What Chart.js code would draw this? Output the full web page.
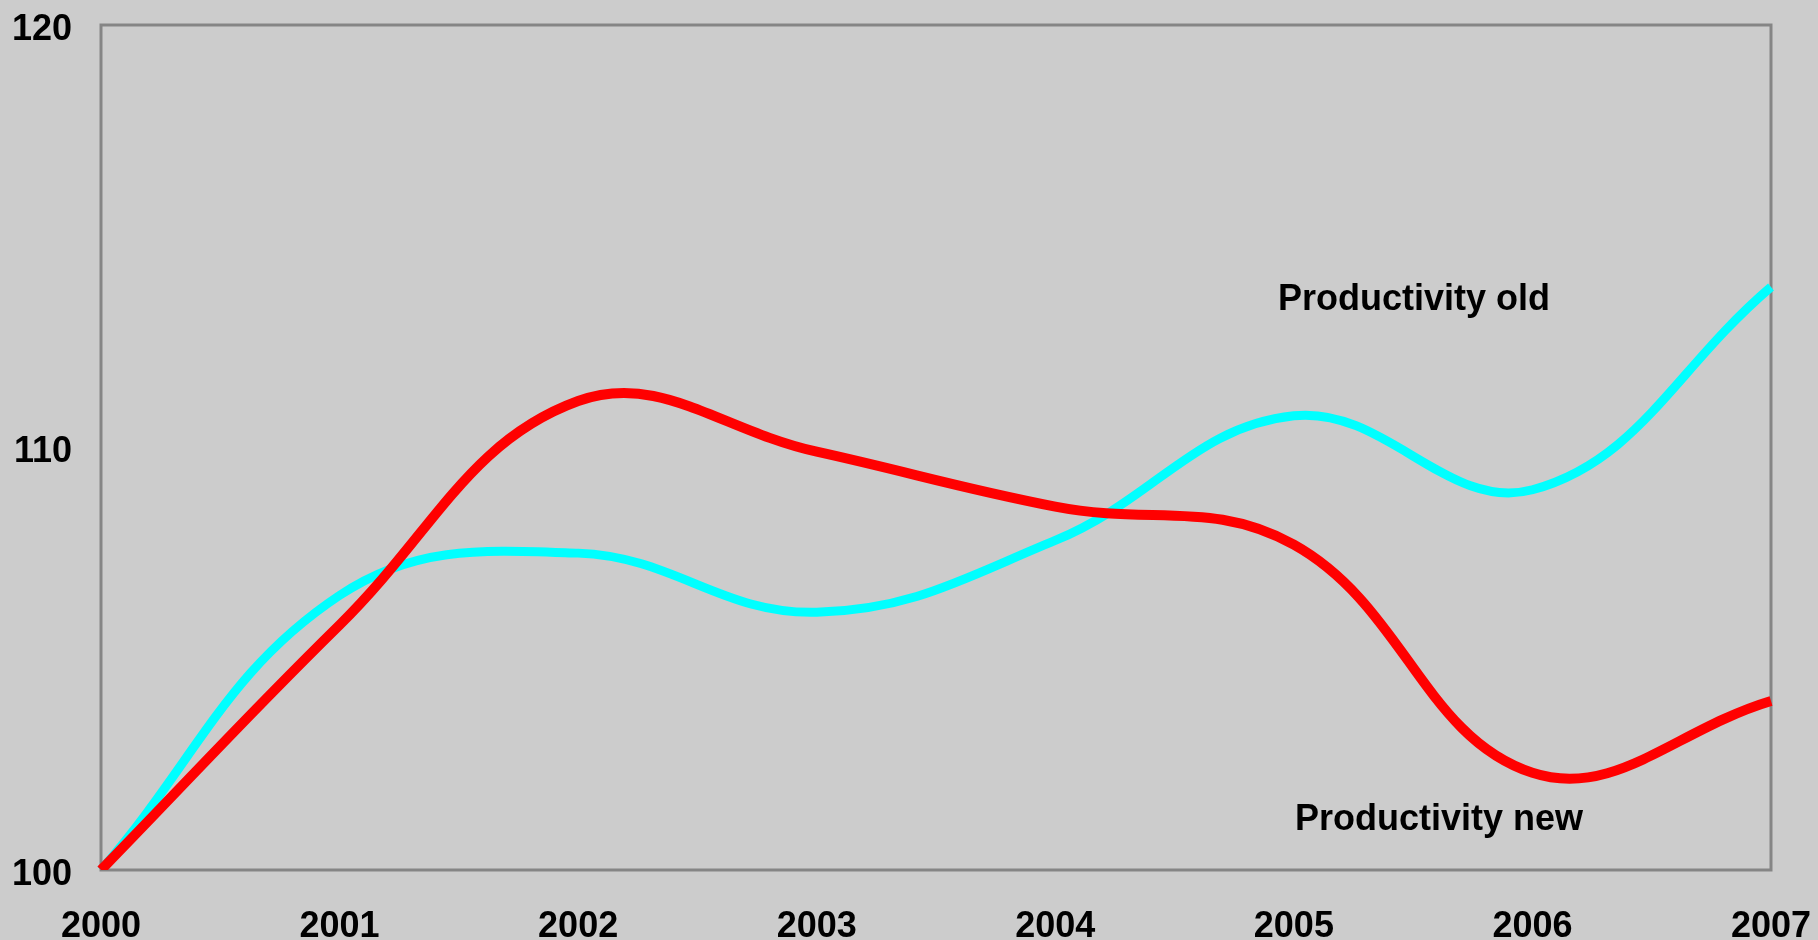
<!DOCTYPE html>
<html>
<head>
<meta charset="utf-8">
<title>Productivity</title>
<script src="https://cdn.jsdelivr.net/npm/chart.js@4.4.1/dist/chart.umd.min.js"></script>
<style>
  html, body { margin: 0; padding: 0; background: #cccccc; }
  #chart { display: block; }
</style>
</head>
<body>
<canvas id="chart" width="1818" height="940"></canvas>
<script>
const years = ["2000", "2001", "2002", "2003", "2004", "2005", "2006", "2007"];
const productivityOld = [100, 106.5, 107.5, 106.1, 107.8, 110.75, 109.0, 113.8];
const productivityNew = [100, 105.8, 111.1, 109.9, 108.6, 107.7, 102.3, 104.0];
const yTicks = [100, 110, 120];

const fontFamily = "'Liberation Sans', Arial, sans-serif";
const labelFont = "bold 36px " + fontFamily;

// grey frame round the plot area
const frame = {
  id: "frame",
  beforeDatasetsDraw(chart) {
    const { ctx, chartArea } = chart;
    ctx.save();
    ctx.strokeStyle = "#858585";
    ctx.lineWidth = 3;
    ctx.strokeRect(chartArea.left, chartArea.top, chartArea.right - chartArea.left, chartArea.bottom - chartArea.top);
    ctx.restore();
  },
};

// series names written inside the plot
const seriesNames = {
  id: "seriesNames",
  afterDatasetsDraw(chart) {
    const { ctx } = chart;
    ctx.save();
    ctx.font = labelFont;
    ctx.fillStyle = "#000000";
    ctx.textAlign = "left";
    ctx.textBaseline = "alphabetic";
    ctx.fillText("Productivity old", 1278, 310);
    ctx.fillText("Productivity new", 1295, 830);
    ctx.restore();
  },
};

new Chart(document.getElementById("chart"), {
  type: "line",
  data: {
    labels: years,
    datasets: [
      {
        label: "Productivity new",
        data: productivityNew,
        borderColor: "#ff0000",
        borderWidth: 10,
        pointRadius: 0,
        tension: 0.4,
        fill: false,
      },
      {
        label: "Productivity old",
        data: productivityOld,
        borderColor: "#00ffff",
        borderWidth: 9,
        pointRadius: 0,
        tension: 0.4,
        fill: false,
      },
    ],
  },
  options: {
    responsive: false,
    animation: false,
    devicePixelRatio: 1,
    layout: { padding: { left: 0, top: 25, right: 47, bottom: 0 } },
    plugins: {
      legend: { display: false },
      tooltip: { enabled: false },
    },
    scales: {
      x: {
        offset: false,
        grid: { display: false, drawTicks: false },
        border: { display: false },
        ticks: {
          color: "#000000",
          font: { family: fontFamily, size: 36, weight: "bold" },
          padding: 35,
          maxRotation: 0,
          autoSkip: false,
        },
        afterFit(scale) {
          scale.height = 70;
          scale.paddingLeft = 0;
          scale.paddingRight = 0;
        },
      },
      y: {
        min: 100,
        max: 120,
        afterBuildTicks(scale) {
          scale.ticks = yTicks.map((v) => ({ value: v }));
        },
        grid: { display: false, drawTicks: false },
        border: { display: false },
        ticks: {
          color: "#000000",
          font: { family: fontFamily, size: 36, weight: "bold" },
          padding: 29,
          labelOffset: 5,
        },
        afterFit(scale) {
          scale.width = 101;
          scale.paddingTop = 0;
          scale.paddingBottom = 0;
        },
      },
    },
  },
  plugins: [frame, seriesNames],
});
</script>
</body>
</html>
